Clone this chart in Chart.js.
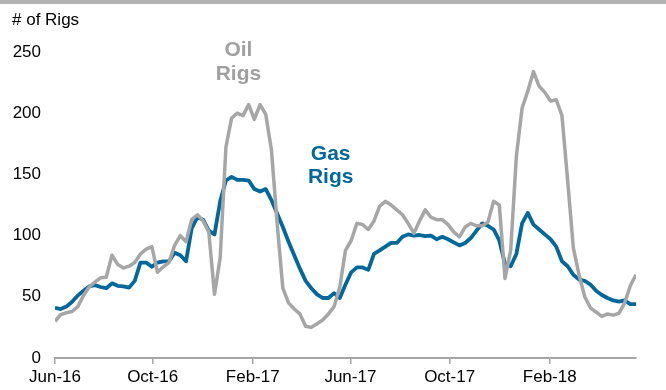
<!DOCTYPE html>
<html>
<head>
<meta charset="utf-8">
<script src="https://cdn.jsdelivr.net/npm/chart.js@4.4.1/dist/chart.umd.min.js"></script>
<style>
  html, body { margin: 0; padding: 0; background: #fff; }
  #wrap { width: 666px; height: 390px; }
</style>
</head>
<body>
<div id="wrap"><canvas id="rigsChart" width="666" height="390"></canvas></div>
<script>
// weekly rig counts, first week 3 Jun 2016
const firstWeek = '2016-06-03';
const tickDates = ['2016-06-03', '2016-10-01', '2017-02-01', '2017-06-01', '2017-10-01', '2018-02-01'];
const tickLabels = ['Jun-16', 'Oct-16', 'Feb-17', 'Jun-17', 'Oct-17', 'Feb-18'];
const yTicks = [0, 50, 100, 150, 200, 250];

const oilRigs = [
    30, 35.5, 37, 38, 42, 51, 58, 62, 65.5, 66,
    84, 76.5, 73.5, 75, 78, 85, 89, 91, 70, 74.5,
    78, 92, 100, 95, 113, 117, 112, 103, 52, 82,
    172, 196, 200, 198, 207, 195, 207, 199, 170, 110,
    57, 45, 40, 36, 26, 25, 28, 31, 36, 42,
    58, 88, 96, 110, 109, 105, 112, 124, 128, 125,
    121, 117, 110, 102, 112, 121, 115, 113, 113, 109,
    103, 99, 107, 110, 108, 108, 111, 128, 125, 65,
    88, 165, 204, 218, 234, 222, 217, 210, 211, 198,
    145, 90, 68, 50, 41, 37.5, 34, 36, 35, 36.5,
    45, 59, 68
];
const gasRigs = [
    41, 40, 42, 46, 51, 55, 58.5, 59.5, 58, 57,
    61, 59, 58.5, 57.5, 63, 78, 78, 74.5, 78, 79,
    79, 86, 84, 79, 106, 115, 113, 104, 101, 128,
    145, 148, 145.5, 145.5, 145, 138, 136, 138, 129, 118,
    107, 95, 84, 73, 63, 57, 52, 49, 49, 53,
    49, 60, 70, 74, 74, 72, 85, 88, 91, 94,
    94, 99, 101, 100, 100.5, 99.5, 100, 97, 99, 97,
    94.5, 92, 94, 98, 104, 110, 108, 105, 96, 77,
    75, 85, 110, 118.5, 109, 105, 101, 97, 91, 79,
    75, 68, 64, 63, 60, 55, 51.5, 49, 47, 46,
    47, 44, 44
];

const weekMs = 7 * 24 * 3600 * 1000;
const tickWeeks = tickDates.map(d => (new Date(d) - new Date(firstWeek)) / weekMs);
const toPoints = arr => arr.map((v, i) => ({ x: i, y: v }));

const oilColor = '#a6a6a6';
const gasColor = '#00689c';

const labelsPlugin = {
    id: 'rigLabels',
    afterDraw(chart) {
        const ctx = chart.ctx;
        const xs = chart.scales.x, ys = chart.scales.y;
        ctx.save();
        // grey rule on top of the figure
        ctx.fillStyle = '#b3b3b3';
        ctx.fillRect(0, 0, chart.width, 4);
        ctx.fillStyle = '#000';
        ctx.font = '17px "Liberation Sans", Arial, sans-serif';
        ctx.textAlign = 'left';
        ctx.textBaseline = 'alphabetic';
        ctx.fillText('# of Rigs', 12, 25);

        ctx.font = 'bold 21px "Liberation Sans", Arial, sans-serif';
        ctx.textAlign = 'center';
        ctx.fillStyle = '#a0a0a0';
        let x = xs.getPixelForValue(32.2), y = ys.getPixelForValue(247);
        ctx.fillText('Oil', x, y);
        ctx.fillText('Rigs', x, y + 24);
        ctx.fillStyle = gasColor;
        x = xs.getPixelForValue(48.4); y = ys.getPixelForValue(162);
        ctx.fillText('Gas', x, y);
        ctx.fillText('Rigs', x, y + 23);
        ctx.restore();
    }
};

new Chart(document.getElementById('rigsChart').getContext('2d'), {
    type: 'line',
    data: {
        datasets: [{
            label: 'Oil Rigs',
            data: toPoints(oilRigs),
            borderColor: oilColor,
            borderWidth: 3.5,
            pointRadius: 0,
            tension: 0,
            borderJoinStyle: 'round'
        }, {
            label: 'Gas Rigs',
            data: toPoints(gasRigs),
            borderColor: gasColor,
            borderWidth: 3.8,
            pointRadius: 0,
            tension: 0,
            borderJoinStyle: 'round'
        }]
    },
    options: {
        responsive: false,
        animation: false,
        layout: { padding: { top: 52, right: 30, left: 0, bottom: 0 } },
        scales: {
            x: {
                type: 'linear',
                min: 0,
                max: oilRigs.length - 1,
                afterBuildTicks: axis => { axis.ticks = tickWeeks.map(v => ({ value: v })); },
                afterFit: axis => { axis.height = 32; },
                grid: { drawOnChartArea: false, color: '#a6a6a6', tickLength: 6, lineWidth: 1.5 },
                border: { color: '#a6a6a6', width: 2 },
                ticks: {
                    autoSkip: false,
                    maxRotation: 0,
                    padding: 3,
                    color: '#000',
                    font: { family: '"Liberation Sans", Arial, sans-serif', size: 17 },
                    callback: (value, index) => tickLabels[index]
                }
            },
            y: {
                min: 0,
                max: 250,
                afterBuildTicks: axis => { axis.ticks = yTicks.map(v => ({ value: v })); },
                afterFit: axis => { axis.width = 55; },
                grid: { display: false, drawTicks: false },
                border: { display: false },
                ticks: {
                    padding: 14,
                    color: '#000',
                    font: { family: '"Liberation Sans", Arial, sans-serif', size: 17 }
                }
            }
        },
        plugins: {
            legend: { display: false },
            tooltip: { enabled: false }
        }
    },
    plugins: [labelsPlugin]
});
</script>
</body>
</html>
